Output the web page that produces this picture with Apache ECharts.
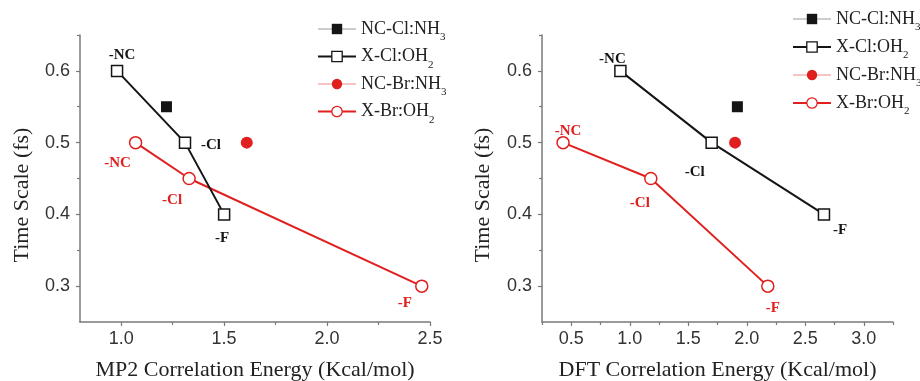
<!DOCTYPE html>
<html>
<head>
<meta charset="utf-8">
<script src="https://cdn.jsdelivr.net/npm/echarts@6/dist/echarts.min.js"></script>
<style>
html,body{margin:0;padding:0;background:#fff;}
#chart{width:920px;height:381px;}
</style>
</head>
<body>
<div id="chart"></div>
<script>
// ---- data ----
const seriesNames = ['NC-Cl:NH3', 'X-Cl:OH2', 'NC-Br:NH3', 'X-Br:OH2'];
const substituentLabels = ['-NC', '-Cl', '-F'];

const timeXClOH2 = [0.6, 0.5, 0.4];
const timeXBrOH2 = [0.5, 0.45, 0.3];
const timeNCClNH3 = [0.55];
const timeNCBrNH3 = [0.5];

const mp2XClOH2 = [0.98, 1.31, 1.50];
const mp2XBrOH2 = [1.07, 1.33, 2.46];
const mp2NCClNH3 = [1.22];
const mp2NCBrNH3 = [1.61];

const dftXClOH2 = [0.92, 1.70, 2.66];
const dftXBrOH2 = [0.43, 1.18, 2.18];
const dftNCClNH3 = [1.92];
const dftNCBrNH3 = [1.90];

const yMajorTicks = [0.3, 0.4, 0.5, 0.6];
const yMinorTicks = [0.35, 0.45, 0.55, 0.65];
const mp2MajorTicks = [1.0, 1.5, 2.0, 2.5];
const mp2MinorTicks = [1.25, 1.75, 2.25];
const dftMajorTicks = [0.5, 1.0, 1.5, 2.0, 2.5, 3.0];
const dftMinorTicks = [0.25, 0.75, 1.25, 1.75, 2.25, 2.75, 3.25];

// ---- styles ----
const BLACK = '#151515';
const RED = '#e0201e';
const SERIF = 'Liberation Serif';
const SANS = 'Liberation Sans';
const AXIS_COLOR = '#7a7a7a';

// label offsets (pixel styling) per plot
const mp2ClOffsets = [[5, -16], [26, 2], [-2, 24]];
const mp2BrOffsets = [[-18, 20], [-17, 22], [-17, 17]];
const dftClOffsets = [[-8, -12], [-17, 29], [16, 16]];
const dftBrOffsets = [[5, -12], [-11, 25], [5, 22]];

function pts(xs, ys, labels, offsets, color) {
  return xs.map((x, i) => {
    const d = { value: [x, ys[i]] };
    if (labels) {
      d.label = {
        show: true, formatter: labels[i], position: 'inside',
        offset: offsets[i], color: color, fontFamily: SERIF,
        fontWeight: 'bold', fontSize: 15
      };
    }
    return d;
  });
}

function seriesFor(xi, yi, xsNCCl, xsXCl, xsNCBr, xsXBr, clOff, brOff) {
  return [
    {
      name: seriesNames[1], type: 'line', xAxisIndex: xi, yAxisIndex: yi,
      data: pts(xsXCl, timeXClOH2, substituentLabels, clOff, BLACK),
      symbol: 'rect', symbolSize: 11,
      lineStyle: { color: BLACK, width: 2 },
      itemStyle: { color: '#fff', borderColor: BLACK, borderWidth: 1.5 },
      z: 3
    },
    {
      name: seriesNames[3], type: 'line', xAxisIndex: xi, yAxisIndex: yi,
      data: pts(xsXBr, timeXBrOH2, substituentLabels, brOff, RED),
      symbol: 'circle', symbolSize: 12,
      lineStyle: { color: RED, width: 2 },
      itemStyle: { color: '#fff', borderColor: RED, borderWidth: 1.5 },
      z: 2
    },
    {
      name: seriesNames[0], type: 'line', xAxisIndex: xi, yAxisIndex: yi,
      data: pts(xsNCCl, timeNCClNH3),
      symbol: 'rect', symbolSize: 11,
      lineStyle: { color: '#9a9a9a', width: 1 },
      itemStyle: { color: BLACK },
      z: 4
    },
    {
      name: seriesNames[2], type: 'line', xAxisIndex: xi, yAxisIndex: yi,
      data: pts(xsNCBr, timeNCBrNH3),
      symbol: 'circle', symbolSize: 12,
      lineStyle: { color: '#f08a8a', width: 1 },
      itemStyle: { color: RED },
      z: 4
    }
  ];
}

function majorAxis(gi, min, max, ticks, isX, name) {
  const ax = {
    type: 'value', gridIndex: gi, min: min, max: max,
    position: isX ? 'bottom' : 'left',
    axisLine: { show: true, onZero: false, lineStyle: { color: AXIS_COLOR, width: 1.5 } },
    axisTick: { show: true, inside: false, length: 4, customValues: ticks, lineStyle: { color: AXIS_COLOR, width: 1.2 } },
    axisLabel: {
      customValues: ticks, formatter: v => Number(v).toFixed(1),
      fontFamily: SANS, fontSize: 18, color: '#333', margin: isX ? 8 : 10
    },
    splitLine: { show: false }
  };
  if (isX) {
    ax.name = name;
    ax.nameLocation = 'middle';
    ax.nameGap = 37;
    ax.nameTextStyle = { fontFamily: SERIF, fontSize: 22, color: '#222' };
  }
  return ax;
}
function minorAxis(gi, min, max, ticks, isX) {
  return {
    type: 'value', gridIndex: gi, min: min, max: max,
    position: isX ? 'bottom' : 'left',
    axisLine: { show: false, onZero: false },
    axisTick: { show: true, inside: false, length: 3, customValues: ticks, lineStyle: { color: AXIS_COLOR, width: 1.2 } },
    axisLabel: { show: false },
    splitLine: { show: false }
  };
}

const legendFormatter = n => {
  const m = n.match(/^(.*?)(\d)$/);
  return m ? '{n|' + m[1] + '}{s|' + m[2] + '}' : '{n|' + n + '}';
};
function legendFor(left, top, gap) {
  return {
    orient: 'vertical', left: left, top: top, padding: 0, itemGap: gap,
    itemWidth: 38, itemHeight: 13,
    data: [
      { name: seriesNames[0], itemStyle: { color: BLACK, borderWidth: 0 }, lineStyle: { color: '#9a9a9a', width: 1 } },
      { name: seriesNames[1], itemStyle: { color: '#fff', borderColor: BLACK, borderWidth: 1.3 }, lineStyle: { color: BLACK, width: 2 } },
      { name: seriesNames[2], itemStyle: { color: RED, borderWidth: 0 }, lineStyle: { color: '#f08a8a', width: 1 } },
      { name: seriesNames[3], itemStyle: { color: '#fff', borderColor: RED, borderWidth: 1.3 }, lineStyle: { color: RED, width: 2 } }
    ],
    formatter: legendFormatter,
    selectedMode: false,
    textStyle: {
      fontFamily: SERIF, fontSize: 18, color: '#222',
      rich: {
        n: { fontFamily: SERIF, fontSize: 18, lineHeight: 28, verticalAlign: 'middle', color: '#222' },
        s: { fontFamily: SERIF, fontSize: 11, lineHeight: 11, verticalAlign: 'bottom', color: '#222' }
      }
    }
  };
}

const chart = echarts.init(document.getElementById('chart'), null, { renderer: 'canvas' });
chart.setOption({
  animation: false,
  backgroundColor: '#fff',
  grid: [
    { left: 80, top: 35, width: 350, bottom: 59, containLabel: false, outerBoundsMode: 'none' },
    { left: 542, top: 35, width: 351, bottom: 59, containLabel: false, outerBoundsMode: 'none' }
  ],
  xAxis: [
    majorAxis(0, 0.8, 2.5, mp2MajorTicks, true, 'MP2 Correlation Energy (Kcal/mol)'),
    minorAxis(0, 0.8, 2.5, mp2MinorTicks, true),
    majorAxis(1, 0.25, 3.25, dftMajorTicks, true, 'DFT Correlation Energy (Kcal/mol)'),
    minorAxis(1, 0.25, 3.25, dftMinorTicks, true)
  ],
  yAxis: [
    majorAxis(0, 0.25, 0.65, yMajorTicks, false),
    minorAxis(0, 0.25, 0.65, yMinorTicks, false),
    majorAxis(1, 0.25, 0.65, yMajorTicks, false),
    minorAxis(1, 0.25, 0.65, yMinorTicks, false)
  ],
  legend: [legendFor(317, 20, 4.5), legendFor(792, 10, 5)],
  graphic: [
    { type: 'text', x: 22, y: 195, rotation: Math.PI / 2,
      style: { text: 'Time Scale (fs)', fontFamily: SERIF, fontSize: 22, fill: '#222', align: 'center', verticalAlign: 'middle' } },
    { type: 'text', x: 483, y: 195, rotation: Math.PI / 2,
      style: { text: 'Time Scale (fs)', fontFamily: SERIF, fontSize: 22, fill: '#222', align: 'center', verticalAlign: 'middle' } }
  ],
  series: [].concat(
    seriesFor(0, 0, mp2NCClNH3, mp2XClOH2, mp2NCBrNH3, mp2XBrOH2, mp2ClOffsets, mp2BrOffsets),
    seriesFor(2, 2, dftNCClNH3, dftXClOH2, dftNCBrNH3, dftXBrOH2, dftClOffsets, dftBrOffsets)
  )
});
</script>
</body>
</html>
